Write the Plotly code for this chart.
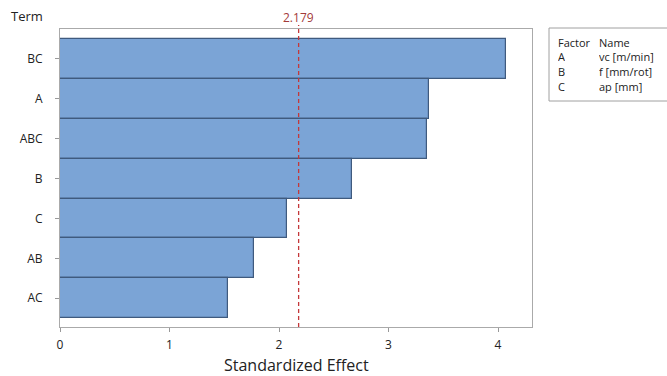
import plotly.graph_objects as go

terms = ["BC", "A", "ABC", "B", "C", "AB", "AC"]
effects = [4.07, 3.37, 3.35, 2.67, 2.07, 1.77, 1.53]
ref_value = 2.179
x_ticks = [0, 1, 2, 3, 4]
factor_letters = ["A", "B", "C"]
factor_names = ["vc [m/min]", "f [mm/rot]", "ap [mm]"]

FONT = "Open Sans, DejaVu Sans, sans-serif"
L, R, T, B = 60, 135, 29, 49
W, H = 667, 376
pw = W - L - R
ph = H - T - B

def px(x):
    return (x - L) / pw

def py(y):
    return (H - B - y) / ph

ypos = list(range(len(terms)))

fig = go.Figure()
fig.add_trace(go.Bar(
    x=effects, y=ypos, orientation="h",
    marker=dict(color="#7ba4d6", line=dict(color="#3f5a7e", width=1.2)),
    width=1.0, showlegend=False, hoverinfo="skip",
))

fig.add_shape(type="line", xref="x", yref="paper", x0=ref_value, x1=ref_value,
              y0=0, y1=py(25), line=dict(color="#c4383a", width=1.3, dash="4px,3px"))
fig.add_annotation(xref="x", yref="paper", x=ref_value, y=py(17), text=f"{ref_value:.3f}",
                   showarrow=False, font=dict(family=FONT, size=12, color="#a33a3a"),
                   xanchor="center", yanchor="middle", height=14)
fig.add_annotation(xref="paper", yref="paper", x=px(27), y=py(16), text="Term",
                   showarrow=False, font=dict(family=FONT, size=13, color="#222"),
                   xanchor="center", yanchor="middle")
fig.add_annotation(xref="paper", yref="paper", x=px(296), y=py(365), text="Standardized Effect",
                   showarrow=False, font=dict(family=FONT, size=16, color="#222"),
                   xanchor="center", yanchor="middle")

# Factor legend box
fig.add_shape(type="rect", xref="paper", yref="paper", x0=px(549), x1=px(668),
              y0=py(101), y1=py(28), line=dict(color="#a0a0a0", width=1), fillcolor="white")
rows_y = [42, 57, 71.5, 86]
LFONT = dict(family=FONT, size=11, color="#222")
fig.add_annotation(xref="paper", yref="paper", x=px(556), y=py(rows_y[0]), text="Factor",
                   showarrow=False, xanchor="left", yanchor="middle", font=LFONT, height=13)
fig.add_annotation(xref="paper", yref="paper", x=px(597), y=py(rows_y[0]), text="Name",
                   showarrow=False, xanchor="left", yanchor="middle", font=LFONT, height=13)
for i, (f, n) in enumerate(zip(factor_letters, factor_names)):
    fig.add_annotation(xref="paper", yref="paper", x=px(556), y=py(rows_y[i + 1]), text=f,
                       showarrow=False, xanchor="left", yanchor="middle", font=LFONT, height=13)
    fig.add_annotation(xref="paper", yref="paper", x=px(597), y=py(rows_y[i + 1]), text=n,
                       showarrow=False, xanchor="left", yanchor="middle", font=LFONT, height=13)

fig.update_layout(
    width=W, height=H,
    margin=dict(l=L, r=R, t=T, b=B, autoexpand=False),
    paper_bgcolor="white", plot_bgcolor="white",
    bargap=0,
    font=dict(family=FONT, size=12, color="#222"),
    xaxis=dict(range=[0, 4.31], tickvals=x_ticks, ticks="outside", ticklen=4,
               tickcolor="#999", showgrid=False, zeroline=False,
               showline=True, linecolor="#aaa", linewidth=1, mirror=True,
               ticklabelstandoff=3, automargin=False,
               tickfont=dict(family=FONT, size=12, color="#222")),
    yaxis=dict(range=[6.72, -0.75], tickvals=ypos, ticktext=terms, ticks="outside",
               ticklen=4, tickcolor="#999", showgrid=False, zeroline=False,
               showline=True, linecolor="#aaa", linewidth=1, mirror=True,
               ticklabelstandoff=10, automargin=False,
               tickfont=dict(family=FONT, size=12, color="#222")),
)

fig.write_html("out.html", config={"displayModeBar": False},
               post_script="document.body.style.margin='0px';document.body.style.overflow='hidden';")
